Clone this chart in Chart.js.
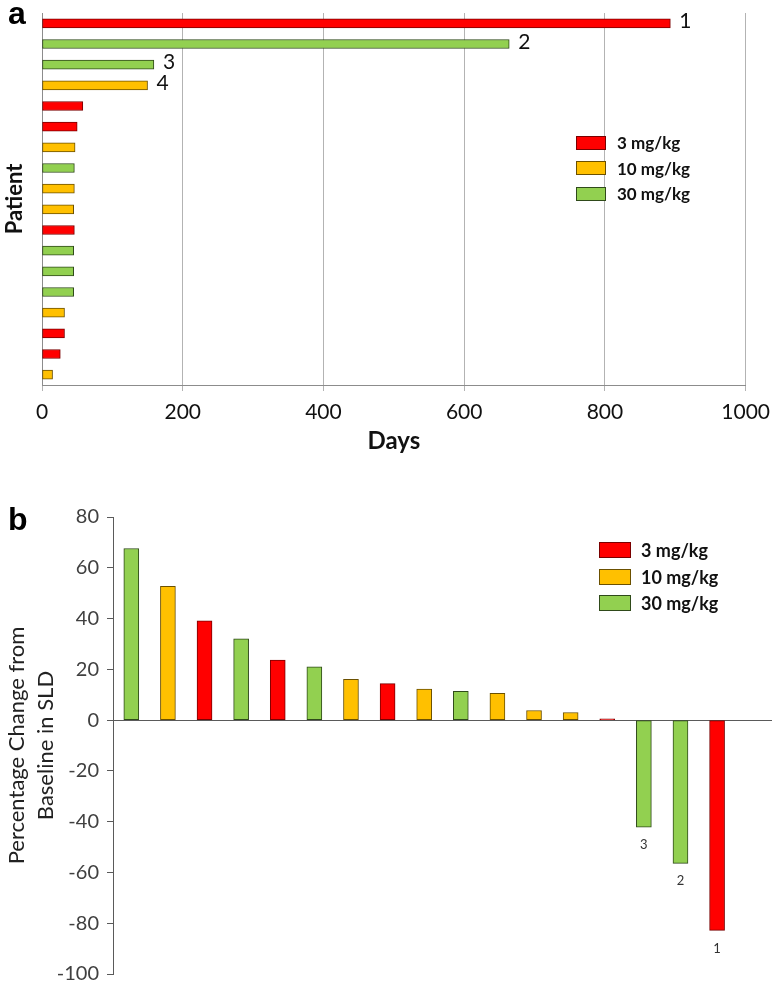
<!DOCTYPE html>
<html lang="en">
<head>
<meta charset="UTF-8">
<title>Days on study and change in SLD</title>
<script src="https://cdn.jsdelivr.net/npm/chart.js"></script>
<style>
    body {
        margin: 0;
        background: #fff;
        width: 774px;
        height: 982px;
        overflow: hidden;
        position: relative;
        font-family: Lato, sans-serif;
    }
    canvas { position: absolute; left: 0; }
    #chartA { top: 0; }
    #chartB { top: 470px; }
    .panel {
        position: absolute;
        left: 8px;
        font: bold 32px "Liberation Sans", Arial, sans-serif;
        line-height: 1;
        color: #000;
    }
    .row {
        position: absolute;
        display: flex;
        align-items: center;
        white-space: nowrap;
        font-weight: bold;
        color: #111;
    }
    .swatch { box-sizing: border-box; border: 1px solid; }
</style>
</head>
<body>

<!-- canvas A is a little wider than the page so the last tick label can hang over the edge -->
<canvas id="chartA" width="779" height="470"></canvas>
<canvas id="chartB" width="774" height="524"></canvas>
<div class="panel" style="top:-3px">a</div>
<div class="panel" style="top:503px">b</div>
<div id="legendA"></div>
<div id="legendB"></div>

<script>
// dose groups
var doseNames = ['3 mg/kg', '10 mg/kg', '30 mg/kg'];
var doseFill = { '3 mg/kg': '#ff0000', '10 mg/kg': '#ffc000', '30 mg/kg': '#92d050' };
var doseEdge = { '3 mg/kg': '#7a0000', '10 mg/kg': '#6b5000', '30 mg/kg': '#2f4a1a' };

// panel a: days on study per patient
var patientsA = ['P1', 'P2', 'P3', 'P4', 'P5', 'P6', 'P7', 'P8', 'P9',
                 'P10', 'P11', 'P12', 'P13', 'P14', 'P15', 'P16', 'P17', 'P18'];
var daysDoses = ['3 mg/kg', '30 mg/kg', '30 mg/kg', '10 mg/kg', '3 mg/kg', '3 mg/kg',
                 '10 mg/kg', '30 mg/kg', '10 mg/kg', '10 mg/kg', '3 mg/kg', '30 mg/kg',
                 '30 mg/kg', '30 mg/kg', '10 mg/kg', '3 mg/kg', '3 mg/kg', '10 mg/kg'];
var daysValues = [893, 664, 159, 150, 58, 50, 47, 46, 46, 45, 46, 45, 45, 45, 32, 32, 26, 15];
var daysNotes = ['1', '2', '3', '4', '', '', '', '', '', '', '', '', '', '', '', '', '', ''];
var daysTicks = [0, 200, 400, 600, 800, 1000];

// panel b: best percentage change from baseline in SLD
var patientsB = ['P1', 'P2', 'P3', 'P4', 'P5', 'P6', 'P7', 'P8', 'P9',
                 'P10', 'P11', 'P12', 'P13', 'P14', 'P15', 'P16', 'P17', 'P18'];
var sldDoses = ['30 mg/kg', '10 mg/kg', '3 mg/kg', '30 mg/kg', '3 mg/kg', '30 mg/kg',
                '10 mg/kg', '3 mg/kg', '10 mg/kg', '30 mg/kg', '10 mg/kg', '10 mg/kg',
                '10 mg/kg', '3 mg/kg', '30 mg/kg', '30 mg/kg', '3 mg/kg', '3 mg/kg'];
var sldValues = [67.6, 52.7, 39.1, 32, 23.6, 21, 16.1, 14.4, 12.2, 11.3, 10.5, 3.8, 3.0, 0.5,
                 -42.2, -56.4, -82.8, null];
var sldNotes = ['', '', '', '', '', '', '', '', '', '', '', '', '', '', '3', '2', '1', ''];
var sldTicks = [-100, -80, -60, -40, -20, 0, 20, 40, 60, 80];

Chart.defaults.font.family = 'Lato, sans-serif';

// small numbers written next to the end of a bar
var barNotes = {
    id: 'barNotes',
    afterDatasetsDraw: function (chart, args, opts) {
        var ctx = chart.ctx;
        var bars = chart.getDatasetMeta(0).data;
        ctx.save();
        ctx.font = opts.font;
        ctx.fillStyle = opts.color;
        ctx.textBaseline = 'middle';
        bars.forEach(function (bar, i) {
            var t = opts.labels[i];
            if (!t) return;
            if (chart.options.indexAxis === 'y') {
                ctx.textAlign = 'left';
                ctx.fillText(t, bar.x + opts.gap, bar.y - 2);
            } else {
                ctx.textAlign = 'center';
                ctx.fillText(t, bar.x, bar.y + opts.gap);
            }
        });
        ctx.restore();
    }
};

function makeLegend(id, left, firstCenter, rowGap, boxW, boxH, textGap, fontSize) {
    var html = '';
    doseNames.forEach(function (name, i) {
        var top = firstCenter + i * rowGap - 12;
        html += '<div class="row" style="left:' + left + 'px;top:' + top + 'px;height:24px;font-size:' + fontSize + 'px">' +
            '<span class="swatch" style="width:' + boxW + 'px;height:' + boxH + 'px;background:' + doseFill[name] +
            ';border-color:' + doseEdge[name] + '"></span>' +
            '<span style="margin-left:' + textGap + 'px">' + name + '</span></div>';
    });
    document.getElementById(id).innerHTML = html;
}

makeLegend('legendA', 576, 142.5, 25.5, 30, 14, 11, 17);
makeLegend('legendB', 599, 550, 26.5, 32, 16, 10, 18);

function plainTick(v) { return String(v); }

var ctxA = document.getElementById('chartA').getContext('2d');
var chartA = new Chart(ctxA, {
    type: 'bar',
    data: {
        labels: patientsA,
        datasets: [{
            data: daysValues,
            backgroundColor: daysDoses.map(function (d) { return doseFill[d]; }),
            borderColor: daysDoses.map(function (d) { return doseEdge[d]; }),
            borderWidth: 1,
            borderSkipped: false,
            barThickness: 9
        }]
    },
    options: {
        indexAxis: 'y',
        responsive: false,
        animation: false,
        layout: { padding: { top: 13, right: 32, left: 0, bottom: 0 } },
        plugins: {
            legend: { display: false },
            tooltip: { enabled: false },
            barNotes: { labels: daysNotes, gap: 9, font: '21px Lato, sans-serif', color: '#111' }
        },
        scales: {
            x: {
                min: 0,
                max: 1000,
                afterBuildTicks: function (s) { s.ticks = daysTicks.map(function (v) { return { value: v }; }); },
                ticks: { color: '#111', font: { size: 21 }, padding: 9, callback: plainTick },
                grid: { color: '#b3b3b3', tickLength: 6 },
                border: { color: '#8c8c8c' },
                title: {
                    display: true, text: 'Days', color: '#111',
                    font: { size: 24, weight: 'bold' },
                    padding: { top: 0, bottom: 14 }
                },
                afterFit: function (s) { s.height = 85; }
            },
            y: {
                grid: { display: false },
                ticks: { display: false },
                border: { color: '#8c8c8c' },
                title: {
                    display: true, text: 'Patient', color: '#111',
                    font: { size: 22, weight: 'bold' },
                    padding: { top: 2, bottom: 0 }
                },
                afterFit: function (s) { s.width = 42; }
            }
        }
    },
    plugins: [barNotes]
});

var ctxB = document.getElementById('chartB').getContext('2d');
var chartB = new Chart(ctxB, {
    type: 'bar',
    data: {
        labels: patientsB,
        datasets: [{
            data: sldValues,
            backgroundColor: sldDoses.map(function (d) { return doseFill[d]; }),
            borderColor: sldDoses.map(function (d) { return doseEdge[d]; }),
            borderWidth: 1,
            borderSkipped: false,
            barThickness: 15
        }]
    },
    options: {
        responsive: false,
        animation: false,
        layout: { padding: { top: 47, right: 2, left: 0, bottom: 20 } },
        plugins: {
            legend: { display: false },
            tooltip: { enabled: false },
            barNotes: { labels: sldNotes, gap: 18, font: '13px Lato, sans-serif', color: '#333' }
        },
        scales: {
            x: { display: false },
            y: {
                min: -100,
                max: 80,
                afterBuildTicks: function (s) { s.ticks = sldTicks.map(function (v) { return { value: v }; }); },
                ticks: { color: '#404040', font: { size: 20 }, padding: 8, callback: plainTick },
                grid: {
                    color: function (c) { return c.tick && c.tick.value === 0 ? '#5a5a5a' : 'rgba(0,0,0,0)'; },
                    tickColor: '#5a5a5a',
                    tickLength: 6
                },
                border: { color: '#5a5a5a' },
                title: {
                    display: true,
                    text: ['Percentage Change from', 'Baseline in SLD'],
                    color: '#222',
                    font: { size: 22, lineHeight: 1.3 },
                    padding: { top: 3, bottom: 0 }
                },
                afterFit: function (s) { s.width = 113; }
            }
        }
    },
    plugins: [barNotes]
});
</script>

</body>
</html>
